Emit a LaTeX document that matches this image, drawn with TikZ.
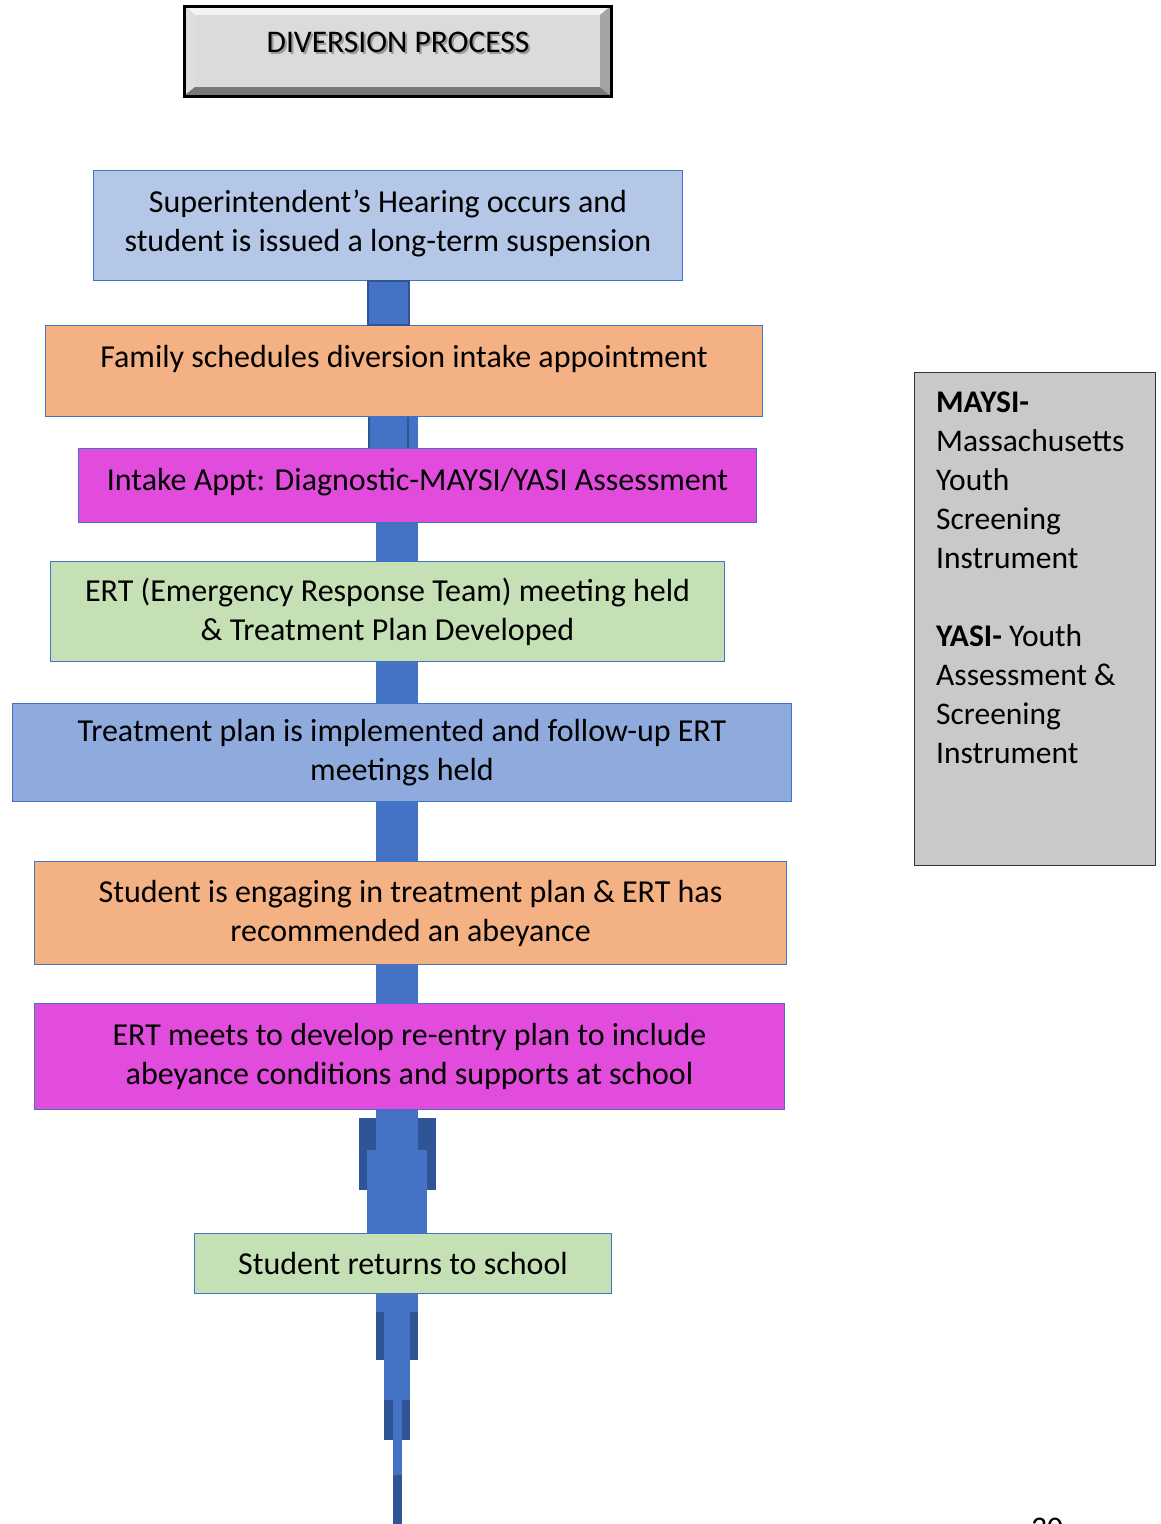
\documentclass[tikz,border=0pt]{standalone}
\usepackage{fontspec}
\setmainfont{Carlito}
\begin{document}
\definecolor{cLblue}{HTML}{B4C7E7}
\definecolor{cBlue}{HTML}{8FAADC}
\definecolor{cOrange}{HTML}{F4B183}
\definecolor{cMag}{HTML}{E24CDD}
\definecolor{cGreen}{HTML}{C5E0B4}
\definecolor{cBar}{HTML}{4472C4}
\definecolor{cBarDk}{HTML}{2F5597}
\definecolor{cSide}{HTML}{C9C9C9}
\definecolor{cTitle}{HTML}{DCDBDC}
\begin{tikzpicture}[x=1pt,y=-1pt,
  stepbox/.style={draw=cBar, line width=1pt, anchor=north west, inner sep=0pt,
    align=center, font=\fontsize{32}{39}\selectfont},
  bar/.style={fill=cBar},
  bardk/.style={fill=cBarDk}]
\useasboundingbox (0,0) rectangle (1160,1524);
% title box with bevel
\fill[cTitle!70!black] (184,6) rectangle (611,96);
\fill[white!70!cTitle] (184,6) -- (611,6) -- (600,15) -- (195,15) -- cycle;
\fill[cTitle!92!white] (184,6) -- (195,15) -- (195,87) -- (184,96) -- cycle;
\fill[cTitle!55!black] (184,96) -- (195,87) -- (600,87) -- (611,96) -- cycle;
\fill[cTitle!75!black] (611,6) -- (600,15) -- (600,87) -- (611,96) -- cycle;
\node (title) [fill=cTitle, minimum width=405, minimum height=72, inner sep=0pt, anchor=north west] at (195,15) {};
\draw[black, line width=3pt] (184,6) rectangle (611,96);
\node[text=black!40, font=\fontsize{31.5}{36}\selectfont] at (400,44) {DIVERSION PROCESS};
\node (titletxt) [font=\fontsize{31.5}{36}\selectfont] at (398,42) {DIVERSION PROCESS};
% steps
\node (b1) [stepbox, fill=cLblue, minimum width=589, minimum height=110] at (93,170) {Superintendent’s Hearing occurs and\\student is issued a long-term suspension\\[-30pt]\mbox{}};
\node (b2) [stepbox, fill=cOrange, minimum width=717, minimum height=91] at (45,325) {Family schedules diversion intake appointment\\[-10pt]\mbox{}};
\node (b3) [stepbox, fill=cMag, minimum width=678, minimum height=74] at (78,448) {Intake Appt: Diagnostic-MAYSI/YASI Assessment\\[-27pt]\mbox{}};
\node (b4) [stepbox, fill=cGreen, minimum width=674, minimum height=100] at (50,561) {ERT (Emergency Response Team) meeting held\\\&~Treatment Plan Developed};
\node (b5) [stepbox, fill=cBlue, minimum width=779, minimum height=98] at (12,703) {Treatment plan is implemented and follow-up ERT\\meetings held};
\node (b6) [stepbox, fill=cOrange, minimum width=752, minimum height=103] at (34,861) {Student is engaging in treatment plan \& ERT has\\recommended an abeyance};
\node (b7) [stepbox, fill=cMag, minimum width=750, minimum height=106] at (34,1003) {ERT meets to develop re-entry plan to include\\abeyance conditions and supports at school};
\node (b8) [stepbox, fill=cGreen, minimum width=417, minimum height=60] at (194,1233) {Student returns to school};
% bars between steps
\fill[bar, draw=cBarDk, line width=1.5pt] (b1.south -| 368,0) rectangle (b2.north -| 409,0);
\fill[bar] (b2.south -| 368,0) rectangle (b3.north -| 418,0);
\fill[bardk] (b2.south -| 368,0) rectangle (b3.north -| 370,0);
\fill[bardk] (b2.south -| 407,0) rectangle (b3.north -| 409,0);
\fill[bar] (b3.south -| 376,0) rectangle (b4.north -| 418,0);
\fill[bar] (b4.south -| 376,0) rectangle (b5.north -| 418,0);
\fill[bar] (b5.south -| 376,0) rectangle (b6.north -| 418,0);
\fill[bar] (b6.south -| 376,0) rectangle (b7.north -| 418,0);
% b7 -> b8
\fill[bardk] (359,1118) rectangle (376,1190);
\fill[bardk] (418,1118) rectangle (436,1190);
\fill[bar] (b7.south -| 376,0) rectangle (418,1150);
\fill[bar] (367,1150) rectangle (b8.north -| 427,0);
% tail below b8
\coordinate (tailend) at (397,1524);
\fill[bardk] (376,1312) rectangle (384,1360);
\fill[bardk] (410,1312) rectangle (418,1360);
\fill[bar] (b8.south -| 376,0) rectangle (418,1312);
\fill[bar] (384,1312) rectangle (410,1440);
\fill[bardk] (384,1400) rectangle (393,1440);
\fill[bardk] (402,1400) rectangle (410,1440);
\fill[bar] (393,1440) rectangle (402,1475);
\fill[bardk] (393,1475) rectangle (tailend -| 402,0);
% side box
\node (side) [draw=black!80, line width=1.2pt, fill=cSide, minimum width=241, minimum height=493, inner sep=0pt, anchor=north west] at (914,372) {};
\node (sidetxt) [anchor=north west, inner sep=0pt, align=left, font=\fontsize{31.5}{39}\selectfont] at (936,392)
 {\textbf{MAYSI-}\\Massachusetts\\Youth\\Screening\\Instrument\\\mbox{}\\\textbf{YASI-} Youth\\Assessment \&\\Screening\\Instrument};
% page number (cut by the page edge, as in the reference)
\node (pagenum) [font=\fontsize{31.5}{36}\selectfont] at (1047,1528) {30};
\end{tikzpicture}
\end{document}
